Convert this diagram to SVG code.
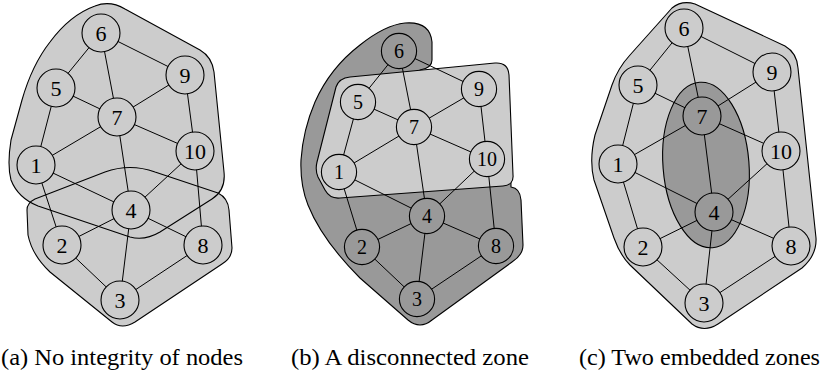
<svg xmlns="http://www.w3.org/2000/svg" width="825" height="374" viewBox="0 0 825 374">
<style>
.lt{fill:#cccccc}
.dk{fill:#999999}
.ol{fill:none;stroke:#000;stroke-width:1.1;stroke-linejoin:round}
.rg{stroke:#000;stroke-width:1.1;stroke-linejoin:round}
.e line{stroke:#000;stroke-width:1}
.n circle{stroke:#000;stroke-width:1.1}
.n text{font-family:'Liberation Serif','DejaVu Serif','Noto Serif',serif;font-size:22px;text-anchor:middle;fill:#000}
.nb text{font-size:20px}
.cap{font-family:'Liberation Serif','DejaVu Serif','Noto Serif',serif;font-size:23px;fill:#000}
</style>
<rect width="825" height="374" fill="#fff"/>

<!-- Panel (a) zones -->
<g id="a-zones">
<path id="a-zone-lower" class="lt" d="M27,210 Q27,203 35,199 L105,172 Q130,163 155,172 L218,193 Q228,198 229,210 L232,248 Q232,258 222,264 L135,322 Q122,330 112,322 L50,272 Q32,255 28,235 Z"/>
<path id="a-zone-upper" class="lt" d="M95,6 Q110,0 125,9 L200,50 Q212,57 214,72 L224,172 Q226,190 212,199 L160,232 Q145,241 130,237 L38,206 Q18,198 11,180 Q7,165 11,140 L22,100 Q32,65 50,42 Q70,15 95,6 Z"/>
<path class="ol" d="M27,210 Q27,203 35,199 L105,172 Q130,163 155,172 L218,193 Q228,198 229,210 L232,248 Q232,258 222,264 L135,322 Q122,330 112,322 L50,272 Q32,255 28,235 Z"/>
<path class="ol" d="M95,6 Q110,0 125,9 L200,50 Q212,57 214,72 L224,172 Q226,190 212,199 L160,232 Q145,241 130,237 L38,206 Q18,198 11,180 Q7,165 11,140 L22,100 Q32,65 50,42 Q70,15 95,6 Z"/>
</g>

<!-- Panel (b) zones -->
<g id="b-zones">
<path id="b-zone-dark" class="dk rg" d="M405,23 Q430,21 432,42 L432,60 Q432,68 420,70 L420,100 L510,120 L511,187 Q520,188 521,200 L523,245 Q523,255 512,262 L432,320 Q420,330 408,320 L360,278 Q322,240 308,205 Q300,185 301,160 Q303,130 315,102 Q330,68 360,45 Q385,25 405,23 Z"/>
<path id="b-zone-light" class="lt rg" d="M350,77 L495,63 Q508,62 509,75 L513,175 Q514,185 503,186 L340,198 Q330,199 325,190 L318,177 Q315,170 317,162 L336,87 Q339,78 350,77 Z"/>
</g>

<!-- Panel (c) zones -->
<g id="c-zones">
<path id="c-zone-outer" class="lt rg" d="M672,8 Q682,0 695,4 L785,46 Q797,53 798,68 L816,238 Q817,255 802,268 L718,324 Q704,333 692,324 L630,265 Q620,255 614,238 L594,180 Q589,160 595,135 L612,85 Q618,68 630,55 Z"/>
<ellipse id="c-zone-inner" class="dk rg" cx="706" cy="165" rx="43" ry="83" transform="rotate(-4.5 706 165)"/>
</g>

<!-- Connectors -->
<g id="connectors" class="e">
<line x1="101" y1="33" x2="56" y2="88"/>
<line x1="101" y1="33" x2="117" y2="117"/>
<line x1="101" y1="33" x2="185" y2="75"/>
<line x1="56" y1="88" x2="117" y2="117"/>
<line x1="56" y1="88" x2="36" y2="165"/>
<line x1="185" y1="75" x2="117" y2="117"/>
<line x1="185" y1="75" x2="195" y2="151"/>
<line x1="117" y1="117" x2="36" y2="165"/>
<line x1="117" y1="117" x2="195" y2="151"/>
<line x1="117" y1="117" x2="131" y2="210"/>
<line x1="36" y1="165" x2="131" y2="210"/>
<line x1="36" y1="165" x2="62" y2="245"/>
<line x1="195" y1="151" x2="131" y2="210"/>
<line x1="195" y1="151" x2="203" y2="245"/>
<line x1="131" y1="210" x2="62" y2="245"/>
<line x1="131" y1="210" x2="203" y2="245"/>
<line x1="131" y1="210" x2="120" y2="300"/>
<line x1="62" y1="245" x2="120" y2="300"/>
<line x1="203" y1="245" x2="120" y2="300"/>

<line x1="399" y1="51" x2="358" y2="102"/>
<line x1="399" y1="51" x2="414" y2="127"/>
<line x1="399" y1="51" x2="479" y2="89"/>
<line x1="358" y1="102" x2="414" y2="127"/>
<line x1="358" y1="102" x2="339" y2="172"/>
<line x1="479" y1="89" x2="414" y2="127"/>
<line x1="479" y1="89" x2="487" y2="159"/>
<line x1="414" y1="127" x2="339" y2="172"/>
<line x1="414" y1="127" x2="487" y2="159"/>
<line x1="414" y1="127" x2="427" y2="216"/>
<line x1="339" y1="172" x2="427" y2="216"/>
<line x1="339" y1="172" x2="362" y2="247"/>
<line x1="487" y1="159" x2="427" y2="216"/>
<line x1="487" y1="159" x2="496" y2="246"/>
<line x1="427" y1="216" x2="362" y2="247"/>
<line x1="427" y1="216" x2="496" y2="246"/>
<line x1="427" y1="216" x2="417" y2="299"/>
<line x1="362" y1="247" x2="417" y2="299"/>
<line x1="496" y1="246" x2="417" y2="299"/>

<line x1="684" y1="28" x2="638" y2="85"/>
<line x1="684" y1="28" x2="702" y2="116"/>
<line x1="684" y1="28" x2="772" y2="72"/>
<line x1="638" y1="85" x2="702" y2="116"/>
<line x1="638" y1="85" x2="618" y2="164"/>
<line x1="772" y1="72" x2="702" y2="116"/>
<line x1="772" y1="72" x2="781" y2="151"/>
<line x1="702" y1="116" x2="618" y2="164"/>
<line x1="702" y1="116" x2="781" y2="151"/>
<line x1="702" y1="116" x2="714" y2="212"/>
<line x1="618" y1="164" x2="714" y2="212"/>
<line x1="618" y1="164" x2="643" y2="247"/>
<line x1="781" y1="151" x2="714" y2="212"/>
<line x1="781" y1="151" x2="791" y2="246"/>
<line x1="714" y1="212" x2="643" y2="247"/>
<line x1="714" y1="212" x2="791" y2="246"/>
<line x1="714" y1="212" x2="704" y2="303"/>
<line x1="643" y1="247" x2="704" y2="303"/>
<line x1="791" y1="246" x2="704" y2="303"/>
</g>

<!-- Panel (a) nodes -->
<g id="a-n1" class="n"><circle class="lt" cx="36" cy="165" r="19"/><text x="36" y="172.5">1</text></g>
<g id="a-n2" class="n"><circle class="lt" cx="62" cy="245" r="19"/><text x="62" y="252.5">2</text></g>
<g id="a-n3" class="n"><circle class="lt" cx="120" cy="300" r="19"/><text x="120" y="307.5">3</text></g>
<g id="a-n4" class="n"><circle class="lt" cx="131" cy="210" r="19"/><text x="131" y="217.5">4</text></g>
<g id="a-n5" class="n"><circle class="lt" cx="56" cy="88" r="19"/><text x="56" y="95.5">5</text></g>
<g id="a-n6" class="n"><circle class="lt" cx="101" cy="33" r="19"/><text x="101" y="40.5">6</text></g>
<g id="a-n7" class="n"><circle class="lt" cx="117" cy="117" r="19"/><text x="117" y="124.5">7</text></g>
<g id="a-n8" class="n"><circle class="lt" cx="203" cy="245" r="19"/><text x="203" y="252.5">8</text></g>
<g id="a-n9" class="n"><circle class="lt" cx="185" cy="75" r="19"/><text x="185" y="82.5">9</text></g>
<g id="a-n10" class="n"><circle class="lt" cx="195" cy="151" r="19"/><text x="195" y="158.5">10</text></g>

<!-- Panel (b) nodes -->
<g id="b-n1" class="n nb"><circle class="lt" cx="339" cy="172" r="17.6"/><text x="339" y="179">1</text></g>
<g id="b-n2" class="n nb"><circle class="dk" cx="362" cy="247" r="17.6"/><text x="362" y="254">2</text></g>
<g id="b-n3" class="n nb"><circle class="dk" cx="417" cy="299" r="17.6"/><text x="417" y="306">3</text></g>
<g id="b-n4" class="n nb"><circle class="dk" cx="427" cy="216" r="17.6"/><text x="427" y="223">4</text></g>
<g id="b-n5" class="n nb"><circle class="lt" cx="358" cy="102" r="17.6"/><text x="358" y="109">5</text></g>
<g id="b-n6" class="n nb"><circle class="dk" cx="399" cy="51" r="17.6"/><text x="399" y="58">6</text></g>
<g id="b-n7" class="n nb"><circle class="lt" cx="414" cy="127" r="17.6"/><text x="414" y="134">7</text></g>
<g id="b-n8" class="n nb"><circle class="dk" cx="496" cy="246" r="17.6"/><text x="496" y="253">8</text></g>
<g id="b-n9" class="n nb"><circle class="lt" cx="479" cy="89" r="17.6"/><text x="479" y="96">9</text></g>
<g id="b-n10" class="n nb"><circle class="lt" cx="487" cy="159" r="17.6"/><text x="487" y="166">10</text></g>

<!-- Panel (c) nodes -->
<g id="c-n1" class="n"><circle class="lt" cx="618" cy="164" r="19"/><text x="618" y="171.5">1</text></g>
<g id="c-n2" class="n"><circle class="lt" cx="643" cy="247" r="19"/><text x="643" y="254.5">2</text></g>
<g id="c-n3" class="n"><circle class="lt" cx="704" cy="303" r="19"/><text x="704" y="310.5">3</text></g>
<g id="c-n4" class="n"><circle class="dk" cx="714" cy="212" r="19"/><text x="714" y="219.5">4</text></g>
<g id="c-n5" class="n"><circle class="lt" cx="638" cy="85" r="19"/><text x="638" y="92.5">5</text></g>
<g id="c-n6" class="n"><circle class="lt" cx="684" cy="28" r="19"/><text x="684" y="35.5">6</text></g>
<g id="c-n7" class="n"><circle class="dk" cx="702" cy="116" r="19"/><text x="702" y="123.5">7</text></g>
<g id="c-n8" class="n"><circle class="lt" cx="791" cy="246" r="19"/><text x="791" y="253.5">8</text></g>
<g id="c-n9" class="n"><circle class="lt" cx="772" cy="72" r="19"/><text x="772" y="79.5">9</text></g>
<g id="c-n10" class="n"><circle class="lt" cx="781" cy="151" r="19"/><text x="781" y="158.5">10</text></g>

<!-- Captions -->
<g id="captions">
<text class="cap" x="1" y="365" textLength="242" lengthAdjust="spacingAndGlyphs">(a) No integrity of nodes</text>
<text class="cap" x="291" y="365" textLength="238" lengthAdjust="spacingAndGlyphs">(b) A disconnected zone</text>
<text class="cap" x="579" y="365" textLength="241" lengthAdjust="spacingAndGlyphs">(c) Two embedded zones</text>
</g>
</svg>
